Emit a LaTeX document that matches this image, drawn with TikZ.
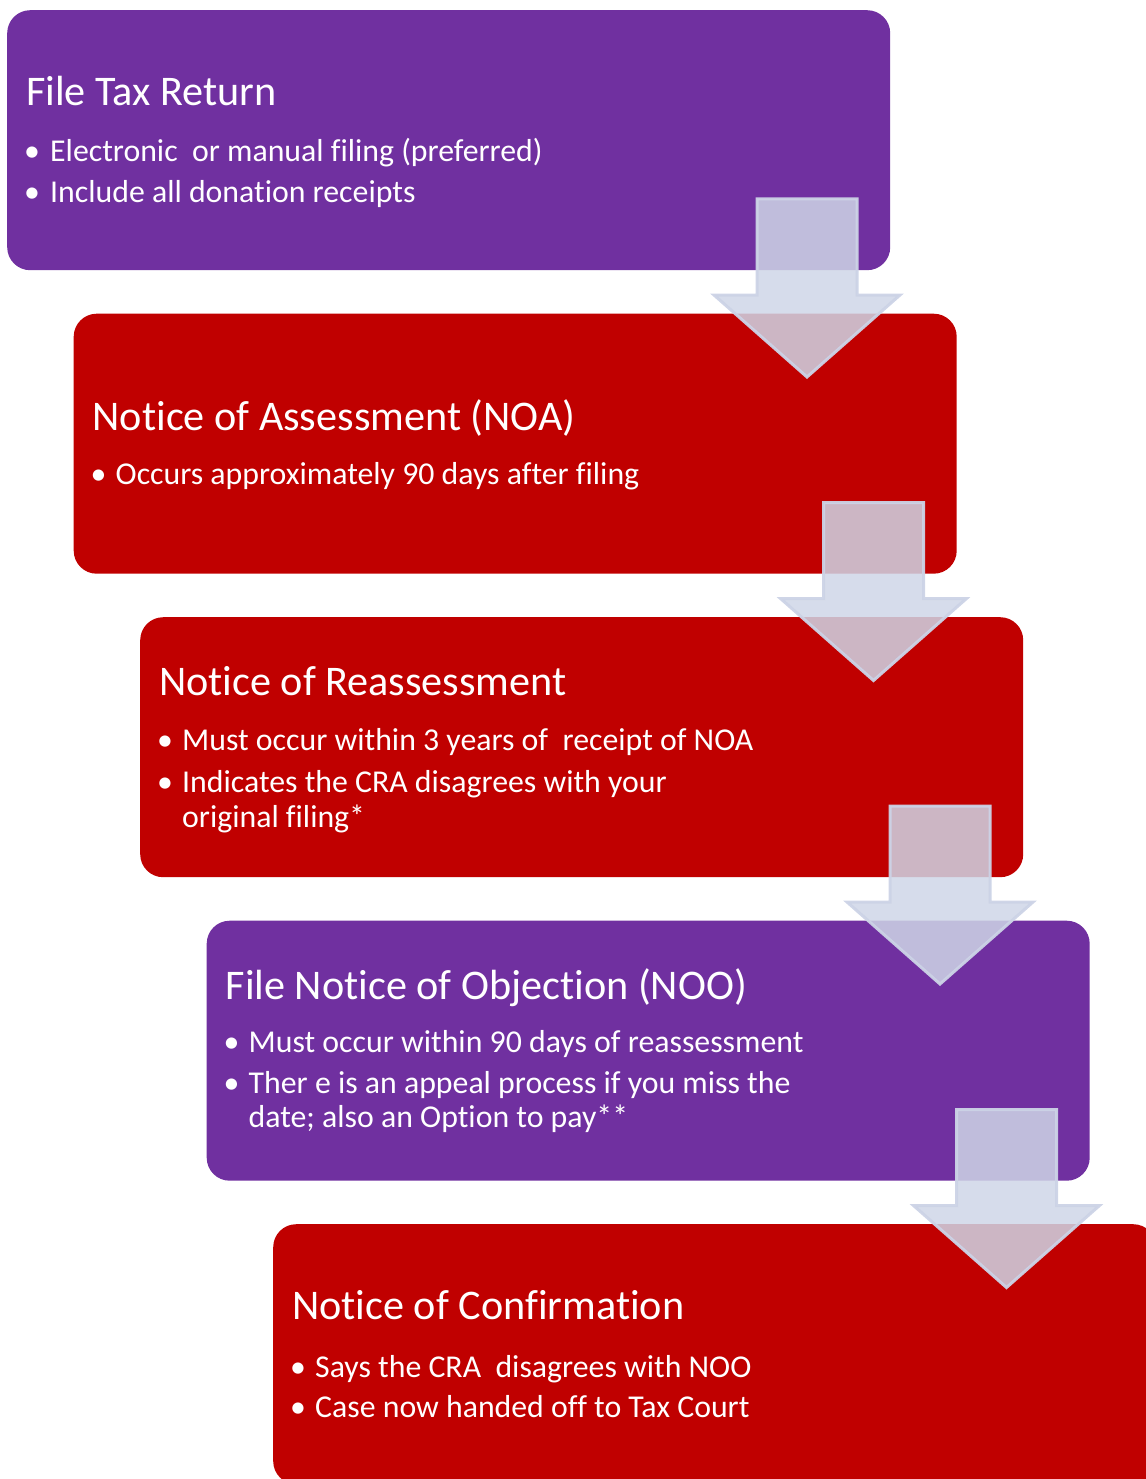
\documentclass[tikz,border=0pt]{standalone}
\usepackage{fontspec}
\setmainfont{Carlito}[RawFeature={-liga;-rlig;-clig;-dlig;-calt}]
\definecolor{purp}{HTML}{7030A0}
\definecolor{redbox}{HTML}{C00000}
\definecolor{arrfill}{RGB}{207,214,231}
\definecolor{arrline}{RGB}{204,211,230}
\begin{document}
\begin{tikzpicture}[x=1pt,y=-1pt,
  box/.style={rectangle, rounded corners=23pt, minimum width=883pt, minimum height=260pt, inner sep=0pt, anchor=north west, draw=none},
  ttl/.style={anchor=base west, inner sep=0pt, text=white, font=\fontsize{42.2pt}{50pt}\selectfont},
  bul/.style={anchor=base west, inner sep=0pt, text=white, font=\fontsize{31.8pt}{38pt}\selectfont},
  dot/.style={anchor=base, inner sep=0pt, text=white, font=\fontsize{31.8pt}{38pt}\selectfont},
  arrowstyle/.style={fill=arrfill, fill opacity=0.85, draw=arrline, draw opacity=0.95, line width=3pt, line join=miter},
  downarr/.pic={\path[arrowstyle] (-50,0) -- (50,0) -- (50,96) -- (93,96) -- (0,178) -- (-93,96) -- (-50,96) -- cycle;}
]
\useasboundingbox (0,0) rectangle (1145,1479);
% boxes
\node[box, fill=purp]   (b1) at (7,10) {};
\node[box, fill=redbox] (b2) at (73.5,313.5) {};
\node[box, fill=redbox] (b3) at (140,617) {};
\node[box, fill=purp]   (b4) at (206.5,920.5) {};
\node[box, fill=redbox] (b5) at (273,1224) {};
% box 1 text
\node[ttl] (t1) at (26,106) {File Tax Return};
\node[dot] (d11) at (32,162) {•};
\node[bul] (l11) at (50,162) {Electronic\ \ or manual filing (preferred)};
\node[dot] (d12) at (32,203) {•};
\node[bul] (l12) at (50,203) {Include all donation receipts};
% box 2 text
\node[ttl] (t2) at (92.5,430) {Notice of Assessment (NOA)};
\node[dot] (d21) at (98.5,484) {•};
\node[bul] (l21) at (115.5,484) {Occurs approximately 90 days after filing};
% box 3 text
\node[ttl] (t3) at (159,695) {Notice of Reassessment};
\node[dot] (d31) at (165,750) {•};
\node[bul] (l31) at (182,750) {Must occur within 3 years of\ \ receipt of NOA};
\node[dot] (d32) at (165,792) {•};
\node[bul] (l32) at (182,792) {Indicates the CRA disagrees with your};
\node[bul] (l33) at (182,827) {original filing*};
% box 4 text
\node[ttl] (t4) at (225.5,999) {File Notice of Objection (NOO)};
\node[dot] (d41) at (231.5,1052) {•};
\node[bul] (l41) at (248.5,1052) {Must occur within 90 days of reassessment};
\node[dot] (d42) at (231.5,1093) {•};
\node[bul] (l42) at (248.5,1093) {Ther e is an appeal process if you miss the};
\node[bul] (l43) at (248.5,1127) {date; also an Option to pay**};
% box 5 text
\node[ttl] (t5) at (292,1319) {Notice of Confirmation};
\node[dot] (d51) at (298,1377) {•};
\node[bul] (l51) at (315,1377) {Says the CRA\ \ disagrees with NOO};
\node[dot] (d52) at (298,1417) {•};
\node[bul] (l52) at (315,1417) {Case now handed off to Tax Court};
% arrows
\pic (a1) at (807,199) {downarr};
\pic (a2) at (873.5,502.5) {downarr};
\pic (a3) at (940,806) {downarr};
\pic (a4) at (1006.5,1109.5) {downarr};
\end{tikzpicture}
\end{document}
